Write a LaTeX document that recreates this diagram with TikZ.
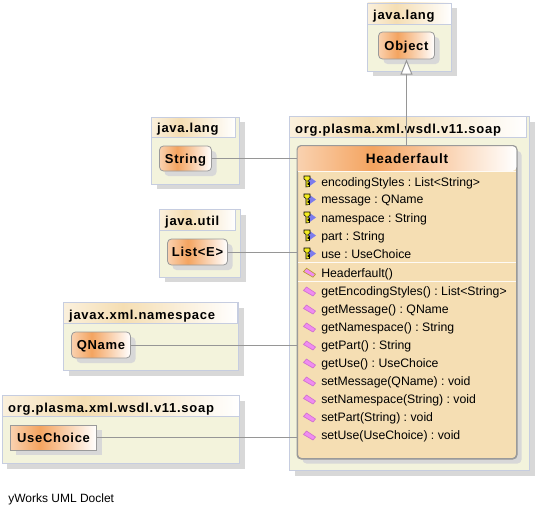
\documentclass[tikz,border=0pt]{standalone}
\usepackage{fontspec}
\setmainfont{Liberation Sans}
\newfontfamily\spacedbold[LetterSpace=5.5]{Liberation Sans Bold}
\usetikzlibrary{arrows.meta,fit,shadows}
\definecolor{ink}{HTML}{000000}
\definecolor{edge}{HTML}{969696}
\definecolor{pkgfill}{HTML}{F3F3DC}
\definecolor{pkgline}{HTML}{C6CDE0}
\definecolor{classfill}{HTML}{F5DEB3}
\definecolor{classline}{HTML}{9A9A9A}
\definecolor{shadowgray}{HTML}{D8D8D8}
\definecolor{sandy}{HTML}{F4A460}
\definecolor{keyfill}{HTML}{F4EC20}
\definecolor{keyblue}{HTML}{7C7CEC}
\definecolor{methodfill}{HTML}{F08CF0}
\definecolor{methodline}{HTML}{D070D0}
\definecolor{ctorline}{HTML}{B8A030}
\pgfdeclarehorizontalshading{pkgshade}{100bp}{color(0bp)=(classfill!45!white);color(25bp)=(classfill!45!white);color(42bp)=(classfill);color(75bp)=(white);color(100bp)=(white)}
\pgfdeclarehorizontalshading{classshade}{100bp}{color(0bp)=(sandy!50!white);color(25bp)=(sandy!50!white);color(42bp)=(sandy);color(75bp)=(white);color(100bp)=(white)}
\newcommand{\twelve}{\fontsize{9.2}{11}\selectfont\frenchspacing}
\newcommand{\boldlabel}{\fontsize{9.75}{11}\spacedbold}
\tikzset{
 every node/.append style={text=ink},
 grayshadow/.style={copy shadow={shadow xshift=3.75pt,shadow yshift=-3.75pt,draw=none,fill=shadowgray,opacity=1}},
 pkgbody/.style={draw=pkgline,fill=pkgfill,line width=.6pt,inner sep=0pt,grayshadow},
 pkghead/.style={draw=pkgline,shading=pkgshade,line width=.6pt,inner sep=0pt},
 pkgname/.style={font=\boldlabel,anchor=base west,xshift=4.4pt,yshift=3.4pt,inner sep=0pt},
 classbox/.style={draw=classline,shading=classshade,line width=.6pt,inner sep=0pt,font=\boldlabel,text height=7.2pt,text depth=0pt,rounded corners=3pt,grayshadow},
 plainbox/.style={classbox,rounded corners=0pt},
 bigbox/.style={draw=classline,fill=classfill,line width=.75pt,inner sep=0pt,rounded corners=3pt,grayshadow},
 member/.style={font=\twelve,anchor=base west,inner sep=0pt},
 rel/.style={draw=edge,line width=.75pt},
 extends/.style={rel,-{Triangle[open,fill=white,length=11.5pt,width=9pt]}},
 sep/.style={draw=white!85!classfill,line width=.75pt},
 fieldicon/.pic={
  \fill[keyblue] (1,-5) -- (8,0) -- (1,5) -- cycle;
  \draw[black,fill=keyfill,line width=.4pt] (-4,-5.5) -- (2,-5.5) -- (2,-2) -- (0,-1) -- (0,.5) -- (1.5,.5) -- (1.5,2) -- (0,2) -- (0,3) -- (1.5,3) -- (1.5,5) -- (-2,5.5) -- (-2,-1) -- (-4,-2.5) -- cycle;
 },
 methodicon/.pic={
  \draw[fill=methodfill,draw=#1,line width=.5pt] (-6,-1) -- (-3,-4.5) -- (6,1.5) -- (3.5,4.5) -- cycle;
 },
}

\begin{document}
\begin{tikzpicture}[x=.75pt,y=-.75pt]

\useasboundingbox (0,0) rectangle (537,514);

% packages
\node[pkgbody,fit={(367.5,3) (451.5,71)}] (langtop) {};
\node[pkghead,fit={(367.5,3) (451.5,24)}] (langtophead) {};
\node[pkgname] at (langtophead.south west) {java.lang};
\node[pkgbody,fit={(151.5,117) (239.5,184)}] (lang) {};
\node[pkghead,fit={(151.5,117) (235.5,137)}] (langhead) {};
\node[pkgname] at (langhead.south west) {java.lang};
\node[pkgbody,fit={(159.5,209.5) (240.5,277)}] (util) {};
\node[pkghead,fit={(159.5,209.5) (235.5,230)}] (utilhead) {};
\node[pkgname] at (utilhead.south west) {java.util};
\node[pkgbody,fit={(63.5,302.5) (238.5,370.5)}] (xml) {};
\node[pkghead,fit={(63.5,302.5) (237.5,323.5)}] (xmlhead) {};
\node[pkgname] at (xmlhead.south west) {javax.xml.namespace};
\node[pkgbody,fit={(2.5,395.5) (239.5,463.5)}] (soap) {};
\node[pkghead,fit={(2.5,395.5) (239.5,416.5)}] (soaphead) {};
\node[pkgname] at (soaphead.south west) {org.plasma.xml.wsdl.v11.soap};
\node[pkgbody,fit={(289.5,116.5) (529.5,470.5)}] (main) {};
\node[pkghead,fit={(289.5,116.5) (526.5,137.5)}] (mainhead) {};
\node[pkgname] at (mainhead.south west) {org.plasma.xml.wsdl.v11.soap};

% classes
\node[classbox,minimum width=42pt,minimum height=20.25pt] (object) at (406.5,45.5) {Object};
\node[classbox,minimum width=39pt,minimum height=18.75pt] (string) at (185.5,158.5) {String};
\node[classbox,minimum width=45pt,minimum height=19.5pt] (list) at (197.5,252) {List<E>};
\node[classbox,minimum width=44.25pt,minimum height=19.5pt] (qname) at (101,345) {QName};
\node[plainbox,minimum width=64.5pt,minimum height=18.75pt] (usechoice) at (53.5,437.5) {UseChoice};

% the class with its members
\node[bigbox,fit={(297.5,146) (516.5,458.5)}] (headerfault) {};
\shade[shading=classshade,rounded corners=3pt] (297.5,171) -- (297.5,146) -- (516.5,146) -- (516.5,171) [sharp corners] -- cycle;
\draw[draw=classline,line width=.75pt,rounded corners=3pt] (headerfault.north west) rectangle (headerfault.south east);
\node[font=\fontsize{10.2}{12}\spacedbold,anchor=base,inner sep=0pt] (title) at (407,163.7) {Headerfault};
\draw[sep] (298,171.5) -- (516,171.5);
\draw[sep] (298,262.5) -- (516,262.5);
\draw[sep] (298,281.5) -- (516,281.5);

\foreach \row/\txt in {0/encodingStyles : List<String>,1/message : QName,2/namespace : String,3/part : String,4/use : UseChoice}{
 \pic at (308,181.5+18*\row) {fieldicon};
 \node[member] at (321,186+18*\row) {\txt};
}
\pic at (309.5,272.7) {methodicon=ctorline};
\node[member] at (321,277.2) {Headerfault()};
\foreach \row/\txt in {0/getEncodingStyles() : List<String>,1/getMessage() : QName,2/getNamespace() : String,3/getPart() : String,4/getUse() : UseChoice,5/setMessage(QName) : void,6/setNamespace(String) : void,7/setPart(String) : void,8/setUse(UseChoice) : void}{
 \pic at (309.5,291.5+18*\row) {methodicon=methodline};
 \node[member] at (321,295.7+18*\row) {\txt};
}

% relations
\draw[extends] (headerfault.north -| object.south) -- (object.south);
\draw[rel] (string.east) -- (string.east -| headerfault.west);
\draw[rel] (list.east) -- (list.east -| headerfault.west);
\draw[rel] (qname.east) -- (qname.east -| headerfault.west);
\draw[rel] (usechoice.east) -- (usechoice.east -| headerfault.west);

\node[font=\fontsize{9}{10}\selectfont,anchor=base west,inner sep=0pt] (doclet) at (8,502) {yWorks UML Doclet};

\end{tikzpicture}
\end{document}
